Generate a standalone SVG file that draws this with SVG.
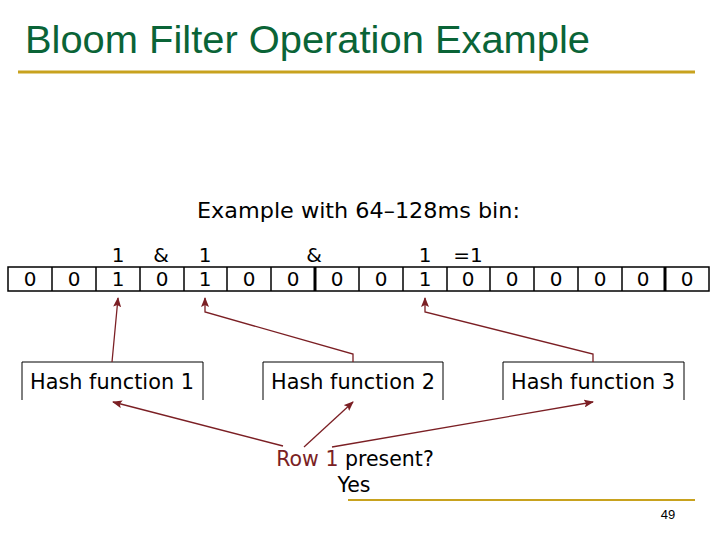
<svg xmlns="http://www.w3.org/2000/svg" width="720" height="540" viewBox="0 0 720 540">
<defs>
<marker id="ah" markerWidth="10" markerHeight="8" refX="9" refY="4" orient="auto" markerUnits="userSpaceOnUse"><path d="M0,0 L10,4 L0,8 L2,4 Z" fill="#7b1f24"/></marker>
<style>
.t{font-family:"DejaVu Sans",sans-serif;fill:#000}
.c{font-family:"DejaVu Sans",sans-serif;font-size:20px;text-anchor:middle}
.cell{fill:#fff;stroke:#000;stroke-width:1.5}
.box{fill:none;stroke:#000;stroke-width:1}
.a{fill:none;stroke:#7b1f24;stroke-width:1.3;marker-end:url(#ah)}
</style>
</defs>
<rect width="720" height="540" fill="#fff"/>
<text x="25" y="53" font-family="Liberation Sans,sans-serif" font-size="38" fill="#0a6437" textLength="565" lengthAdjust="spacingAndGlyphs">Bloom Filter Operation Example</text>
<line x1="18" y1="72" x2="695" y2="72" stroke="#c8a21e" stroke-width="3"/>
<line x1="348" y1="500" x2="695" y2="500" stroke="#c8a21e" stroke-width="2"/>
<text x="668" y="519" font-family="Liberation Sans,sans-serif" font-size="13" text-anchor="middle">49</text>
<text class="t" x="197" y="218" font-size="21.5" textLength="323" lengthAdjust="spacingAndGlyphs">Example with 64–128ms bin:</text>
<g id="array">
<rect class="cell" x="8" y="267" width="701" height="24"/>
<g stroke="#000" stroke-width="1.5">
<line x1="52" y1="267" x2="52" y2="291"/><line x1="96" y1="267" x2="96" y2="291"/><line x1="140" y1="267" x2="140" y2="291"/><line x1="184" y1="267" x2="184" y2="291"/><line x1="227" y1="267" x2="227" y2="291"/><line x1="271" y1="267" x2="271" y2="291"/><line x1="315" y1="267" x2="315" y2="291" stroke-width="3"/><line x1="359" y1="267" x2="359" y2="291"/><line x1="403" y1="267" x2="403" y2="291"/><line x1="447" y1="267" x2="447" y2="291"/><line x1="490" y1="267" x2="490" y2="291"/><line x1="534" y1="267" x2="534" y2="291"/><line x1="578" y1="267" x2="578" y2="291"/><line x1="622" y1="267" x2="622" y2="291"/><line x1="665" y1="267" x2="665" y2="291" stroke-width="3"/>
</g>
<g class="c">
<text x="30" y="286">0</text><text x="74" y="286">0</text><text x="118" y="286">1</text><text x="162" y="286">0</text><text x="205" y="286">1</text><text x="249" y="286">0</text><text x="293" y="286">0</text><text x="337" y="286">0</text><text x="381" y="286">0</text><text x="425" y="286">1</text><text x="468" y="286">0</text><text x="512" y="286">0</text><text x="556" y="286">0</text><text x="600" y="286">0</text><text x="643" y="286">0</text><text x="687" y="286">0</text>
</g>
<g class="c">
<text x="118" y="262">1</text><text x="161" y="262">&amp;</text><text x="205" y="262">1</text><text x="314" y="262">&amp;</text><text x="425" y="262">1</text><text x="468" y="262">=1</text>
</g>
</g>
<g id="h1"><path class="box" d="M22,400 V362 H203 V400"/><text class="t" x="112" y="389" font-size="20.8" text-anchor="middle">Hash function 1</text></g>
<g id="h2"><path class="box" d="M263,400 V362 H443 V400"/><text class="t" x="353" y="389" font-size="20.8" text-anchor="middle">Hash function 2</text></g>
<g id="h3"><path class="box" d="M503,400 V362 H684 V400"/><text class="t" x="593" y="389" font-size="20.8" text-anchor="middle">Hash function 3</text></g>
<g id="q"><text x="355" y="466" font-family="DejaVu Sans,sans-serif" font-size="20.5" text-anchor="middle"><tspan fill="#7b1f24">Row 1</tspan> present?</text>
<text class="t" x="354" y="492" font-size="20.5" text-anchor="middle">Yes</text></g>
<g id="connectors">
<path class="a" d="M112,362 L118,298"/>
<path class="a" d="M353,362 V354 L205,312 V298"/>
<path class="a" d="M593,362 V354 L425,312 V298"/>
<path class="a" d="M283,446 L113,402"/>
<path class="a" d="M304,447 L353,402"/>
<path class="a" d="M332,447 L593,402"/>
</g>
</svg>
